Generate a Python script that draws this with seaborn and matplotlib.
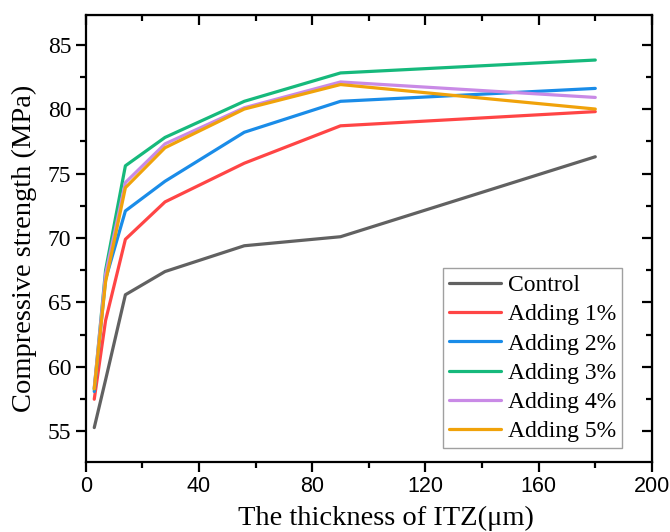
import pandas as pd
import numpy as np
import matplotlib
matplotlib.use("Agg")
import matplotlib.pyplot as plt
import seaborn as sns
from matplotlib.ticker import MultipleLocator

sns.set_style("ticks")
plt.rcParams["font.family"] = ["Liberation Serif", "DejaVu Serif"]
plt.rcParams["axes.edgecolor"] = "black"
plt.rcParams["xtick.color"] = "black"
plt.rcParams["ytick.color"] = "black"
plt.rcParams["text.color"] = "black"
plt.rcParams["axes.labelcolor"] = "black"

# ITZ thickness (um) and compressive strength (MPa)
thickness = [3, 7, 14, 28, 56, 90, 180]
control = [55.3, 59.0, 65.6, 67.4, 69.4, 70.1, 76.3]
adding1 = [57.5, 63.6, 69.9, 72.8, 75.8, 78.7, 79.8]
adding2 = [58.1, 66.8, 72.1, 74.4, 78.2, 80.6, 81.6]
adding3 = [58.3, 67.5, 75.6, 77.8, 80.6, 82.8, 83.8]
adding4 = [58.4, 67.2, 74.3, 77.3, 80.1, 82.1, 80.9]
adding5 = [58.3, 66.6, 73.9, 77.0, 80.0, 81.9, 80.0]

labels = ["Control", "Adding 1%", "Adding 2%", "Adding 3%", "Adding 4%", "Adding 5%"]
colors = ["#616161", "#ff4545", "#1a8ce8", "#16b97c", "#c98ae6", "#f0a20a"]

series = [control, adding1, adding2, adding3, adding4, adding5]
df = pd.concat([pd.DataFrame({"x": thickness, "y": s, "group": lab}) for s, lab in zip(series, labels)])

fig = plt.figure(figsize=(6.7, 5.32), dpi=100)
ax = fig.add_axes([0.128, 0.132, 0.845, 0.84])
sns.lineplot(data=df, x="x", y="y", hue="group", hue_order=labels, palette=colors,
             linewidth=2.3, ax=ax, sort=False)

ax.set_xlim(0, 200)
ax.set_ylim(52.65, 87.3)
ax.xaxis.set_major_locator(MultipleLocator(40))
ax.xaxis.set_minor_locator(MultipleLocator(20))
ax.yaxis.set_major_locator(MultipleLocator(5))
ax.yaxis.set_minor_locator(MultipleLocator(2.5))
ax.tick_params(which="major", direction="out", length=7, width=1.6, labelsize=17)
ax.tick_params(which="minor", direction="out", length=4, width=1.6)
for lab in ax.get_xticklabels():
    lab.set_fontfamily("Liberation Sans")
    lab.set_fontsize(15.5)

for side in ["top", "bottom", "left", "right"]:
    ax.spines[side].set_linewidth(1.6)

# mirrored ticks pointing inward on top and right
top = ax.secondary_xaxis("top")
top.xaxis.set_major_locator(MultipleLocator(40))
top.xaxis.set_minor_locator(MultipleLocator(20))
top.tick_params(which="major", direction="in", length=7, width=1.6, labeltop=False)
top.tick_params(which="minor", direction="in", length=4, width=1.6)
right = ax.secondary_yaxis("right")
right.yaxis.set_major_locator(MultipleLocator(5))
right.yaxis.set_minor_locator(MultipleLocator(2.5))
right.tick_params(which="major", direction="in", length=7, width=1.6, labelright=False)
right.tick_params(which="minor", direction="in", length=4, width=1.6)

ax.set_xlabel("The thickness of ITZ(μm)", fontsize=20.5)
ax.set_ylabel("Compressive strength (MPa)", fontsize=20.5)
ax.xaxis.set_label_coords(0.53, -0.098)
ax.yaxis.set_label_coords(-0.087, 0.477)

leg = ax.legend(loc="lower right", bbox_to_anchor=(0.948, 0.030), borderaxespad=0,
                fontsize=17, frameon=True, fancybox=False, edgecolor="#888888",
                handlelength=2.2, labelspacing=0.33, handletextpad=0.3, borderpad=0.25)
leg.get_frame().set_linewidth(1.0)
for line in leg.get_lines():
    line.set_linewidth(2.3)

fig.savefig("out.png", dpi=100)
